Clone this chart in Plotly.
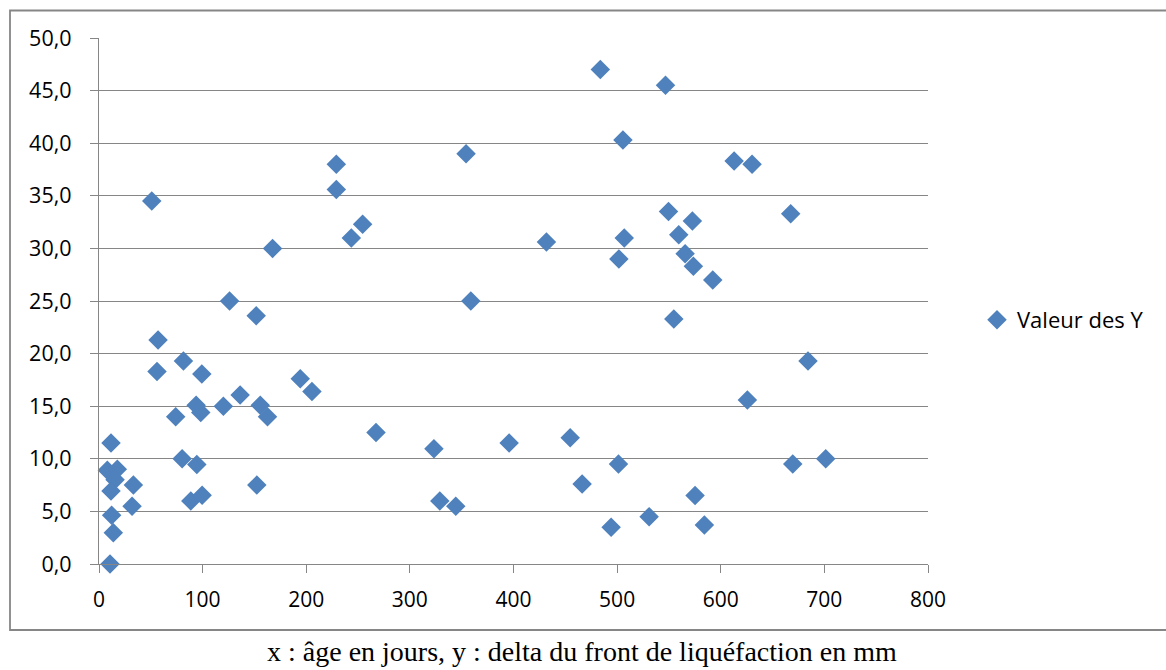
import plotly.graph_objects as go

age_days = [10.6, 11.6, 8, 17.7, 15.5, 11.6, 12.2, 13.8, 33.2, 31.9, 50.9, 57, 56, 74, 81.5,
            80.2, 88.6, 94.4, 93.7, 98.2, 99.2, 99.5, 120, 126, 136.2, 151.7, 152.3, 155.6,
            162.6, 167.5, 194.2, 205.5, 229, 229, 243.5, 254.4, 267.3, 323.2, 328.9, 344.3,
            354.2, 358.8, 395.8, 431.8, 454.7, 466.2, 483.8, 494.2, 501.3, 501.7, 505.6,
            506.9, 530.9, 546.7, 549.6, 554.7, 559.5, 565.6, 572.6, 573.6, 575.2, 584.2,
            592.3, 612.9, 630.2, 625.7, 667.5, 669.5, 684.2, 701.3]
delta_mm = [0, 11.5, 8.9, 9.0, 8.0, 6.95, 4.63, 2.98, 7.5, 5.5, 34.5, 21.3, 18.3, 14.0, 19.3,
            10.0, 6.0, 9.46, 15.08, 14.4, 18.06, 6.54, 15.0, 25.0, 16.06, 23.6, 7.5, 15.1,
            14.0, 30.0, 17.6, 16.4, 38.0, 35.6, 31.0, 32.3, 12.5, 10.95, 6.0, 5.5,
            39.0, 25.0, 11.5, 30.6, 12.0, 7.6, 47.0, 3.5, 9.5, 29.0, 40.3,
            31.0, 4.5, 45.5, 33.5, 23.3, 31.3, 29.5, 32.6, 28.3, 6.5, 3.7,
            27.0, 38.3, 38.0, 15.6, 33.3, 9.5, 19.3, 10.0]

series_name = "Valeur des Y"
caption = "x : âge en jours, y : delta du front de liquéfaction en mm"

W, H = 1166, 670
L, R, T, B = 99, 238, 38, 106
pw, ph = W - L - R, H - T - B

def px2paper_x(px):
    return (px - L) / pw

def px2paper_y(py):
    return (H - B - py) / ph

fig = go.Figure()
fig.add_trace(go.Scatter(
    x=age_days, y=delta_mm, mode="markers", name=series_name,
    marker=dict(symbol="diamond", size=15, color="#4F81BD", line=dict(width=0)),
    cliponaxis=False, showlegend=True,
))

grid = "#868686"
fig.update_layout(
    width=W, height=H,
    margin=dict(l=L, r=R, t=T, b=B),
    paper_bgcolor="white", plot_bgcolor="white",
    separators=", ",
    font=dict(family="Open Sans", size=21, color="black"),
    xaxis=dict(range=[0, 800], dtick=100, tick0=0, showgrid=False, zeroline=False,
               showline=True, linecolor=grid, linewidth=1.3,
               ticks="outside", ticklen=8, tickcolor=grid, tickwidth=1.3,
               tickfont=dict(family="Open Sans", size=21, color="black"),
               ticklabelstandoff=9),
    yaxis=dict(range=[0, 50], dtick=5, tick0=0, tickformat=".1f",
               showgrid=True, gridcolor=grid, gridwidth=1.3, zeroline=False,
               showline=True, linecolor=grid, linewidth=1.3,
               ticks="outside", ticklen=8, tickcolor=grid, tickwidth=1.3,
               tickfont=dict(family="Open Sans", size=21.5, color="black"),
               ticklabelstandoff=14),
    legend=dict(x=px2paper_x(977), y=px2paper_y(320), xanchor="left", yanchor="middle",
                font=dict(family="Open Sans", size=22, color="black"),
                bgcolor="rgba(0,0,0,0)"),
    showlegend=True,
)

fig.add_shape(type="rect", xref="paper", yref="paper",
              x0=px2paper_x(10), x1=px2paper_x(1175), y0=px2paper_y(630), y1=px2paper_y(10.5),
              line=dict(color=grid, width=1.8), fillcolor="rgba(0,0,0,0)", layer="below")

fig.add_annotation(text=caption, xref="paper", yref="paper",
                   x=px2paper_x(582), y=px2paper_y(651), xanchor="center", yanchor="middle",
                   showarrow=False,
                   font=dict(family="Liberation Serif", size=28, color="black"))

fig.write_html("out.html")
